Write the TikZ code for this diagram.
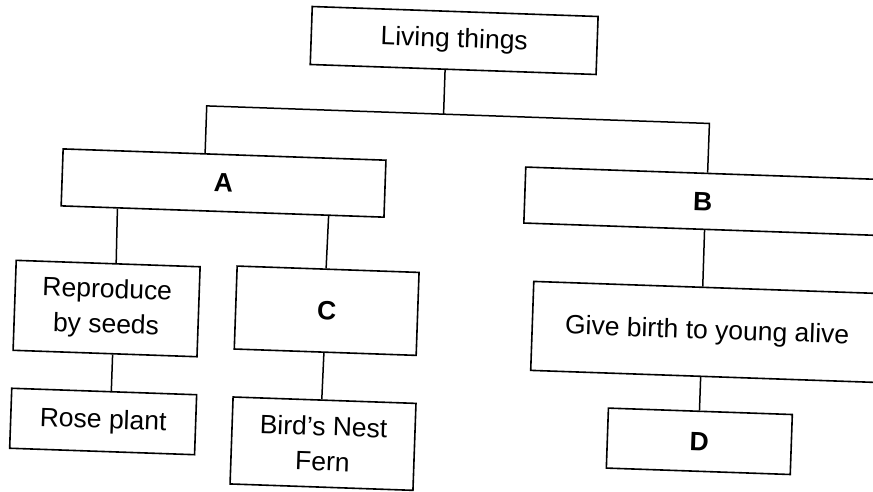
\documentclass[tikz,border=0pt]{standalone}
\usepackage{fontspec}
\setmainfont{Liberation Sans}[Ligatures=Common]
\usetikzlibrary{calc}
\tikzset{
  box/.style={draw=black, line width=1.6pt, inner sep=0pt, align=center,
    font=\fontsize{26.5}{35}\selectfont},
  letterbox/.style={box, font=\fontsize{26.5}{35}\selectfont\bfseries},
  link/.style={draw=black, line width=1.5pt}
}
\begin{document}
\begin{tikzpicture}[x=1pt, y=-1pt]
\useasboundingbox (0,0) rectangle (873,491);
\clip (0,0) rectangle (873,491);
\fill[white] (0,0) rectangle (873,491);
\begin{scope}[rotate around={-2:(436.5,245.5)}, transform shape]
  % nodes (centre, width, height)
  \node[box, minimum width=286pt, minimum height=58pt] (lt) at (447,40) {Living things};
  \node[letterbox, minimum width=323pt, minimum height=57pt] (A) at (221.5,190.5) {A};
  \node[letterbox, minimum width=356pt, minimum height=56pt] (B) at (701,192) {B};
  \node[box, minimum width=184pt, minimum height=90pt] (rep) at (109,320) {Reproduce\\by seeds};
  \node[letterbox, minimum width=182pt, minimum height=83pt] (C) at (329,314.5) {C};
  \node[box, minimum width=350pt, minimum height=89pt] (give) at (710,322.5) {Give birth to young alive};
  \node[box, minimum width=185pt, minimum height=60pt] (rose) at (109.5,433) {Rose plant};
  \node[box, minimum width=183pt, minimum height=87pt] (bird) at (330,447.5) {Bird's Nest\\Fern};
  \node[letterbox, minimum width=184pt, minimum height=60pt] (D) at (706,432) {D};
  % junctions of the branch bar
  \coordinate (j0) at (439,114);
  \coordinate (jA) at (202,114);
  \coordinate (jB) at (705,114);
  % connectors
  \draw[link] ($(lt.south west)!0.472!(lt.south east)$) -- (j0);
  \draw[link] ($(A.north west)!0.44!(A.north east)$) -- (jA) -- (jB)
              -- ($(B.north west)!0.511!(B.north east)$);
  \draw[link] ($(A.south west)!0.176!(A.south east)$) -- ($(rep.north west)!0.543!(rep.north east)$);
  \draw[link] ($(A.south west)!0.827!(A.south east)$) -- ($(C.north west)!0.489!(C.north east)$);
  \draw[link] ($(rep.south west)!0.541!(rep.south east)$) -- ($(rose.north west)!0.538!(rose.north east)$);
  \draw[link] ($(C.south west)!0.493!(C.south east)$) -- ($(bird.north west)!0.485!(bird.north east)$);
  \draw[link] ($(B.south west)!0.508!(B.south east)$) -- ($(give.north west)!0.483!(give.north east)$);
  \draw[link] ($(give.south west)!0.486!(give.south east)$) -- ($(D.north west)!0.495!(D.north east)$);
\end{scope}
\end{tikzpicture}
\end{document}
